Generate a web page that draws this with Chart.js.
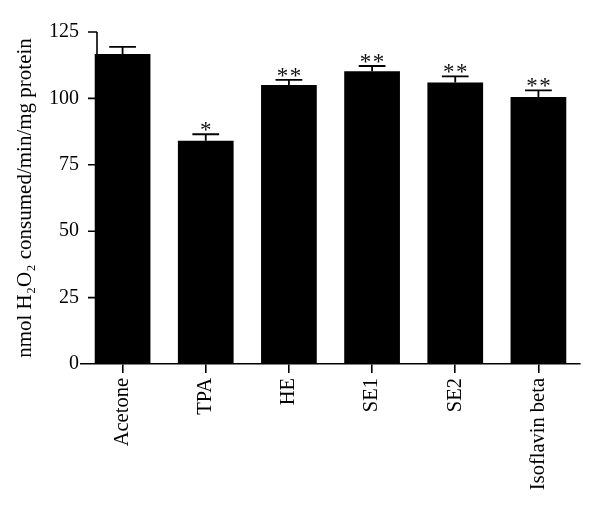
<!DOCTYPE html>
<html>
<head>
<meta charset="utf-8">
<script src="https://cdn.jsdelivr.net/npm/chart.js@4.4.1/dist/chart.umd.min.js"></script>
<style>
  html, body { margin: 0; padding: 0; background: #fff; }
  #wrap { width: 600px; height: 508px; }
</style>
</head>
<body>
<div id="wrap"><canvas id="barchart" width="600" height="508"></canvas></div>
<script>
// data
var groups = ["Acetone", "TPA", "HE", "SE1", "SE2", "Isoflavin beta"];
var means = [116.7, 84.1, 105.0, 110.2, 106.0, 100.5];
var sems = [2.7, 2.4, 2.0, 2.0, 2.3, 2.5];
var stars = [0, 1, 2, 2, 2, 2];
var yTicks = [0, 25, 50, 75, 100, 125];

var serif = "'Liberation Serif', 'Times New Roman', serif";

// y axis line + ticks sit a bit right of the category axis start, like the original
var axisPlugin = {
  id: "axisline",
  afterDatasetsDraw: function(chart) {
    var ctx = chart.ctx;
    var y = chart.scales.y;
    var x0 = chart.chartArea.left + 16;
    ctx.save();
    ctx.strokeStyle = "#000";
    ctx.lineWidth = 1.6;
    ctx.beginPath();
    ctx.moveTo(x0, y.getPixelForValue(yTicks[yTicks.length - 1]));
    ctx.lineTo(x0, y.getPixelForValue(0));
    for (var i = 1; i < yTicks.length; i++) {
      var py = y.getPixelForValue(yTicks[i]);
      ctx.moveTo(x0 - 9, py);
      ctx.lineTo(x0, py);
    }
    ctx.stroke();
    ctx.restore();
  }
};

// error bars and significance stars
var errorPlugin = {
  id: "errorbars",
  afterDatasetsDraw: function(chart) {
    var ctx = chart.ctx;
    var y = chart.scales.y;
    var bars = chart.getDatasetMeta(0).data;
    ctx.save();
    ctx.strokeStyle = "#000";
    ctx.lineWidth = 1.8;
    ctx.fillStyle = "#111";
    ctx.font = "23px " + serif;
    ctx.textAlign = "center";
    ctx.textBaseline = "alphabetic";
    for (var i = 0; i < bars.length; i++) {
      var bx = bars[i].x;
      var half = bars[i].width * 0.24;
      var top = y.getPixelForValue(means[i] + sems[i]);
      ctx.beginPath();
      ctx.moveTo(bx, bars[i].y);
      ctx.lineTo(bx, top);
      ctx.moveTo(bx - half, top);
      ctx.lineTo(bx + half, top);
      ctx.stroke();
      // one or two stars, spread a little apart
      for (var s = 0; s < stars[i]; s++) {
        var dx = (s - (stars[i] - 1) / 2) * 13;
        ctx.fillText("*", bx + dx, top + 3);
      }
    }
    ctx.restore();
  }
};

var ctxB = document.getElementById("barchart").getContext("2d");
var myBarChart = new Chart(ctxB, {
  type: "bar",
  data: {
    labels: groups,
    datasets: [{
      data: means,
      backgroundColor: "#000",
      borderWidth: 0,
      categoryPercentage: 1.0,
      barPercentage: 0.67
    }]
  },
  options: {
    responsive: false,
    animation: false,
    layout: { padding: { top: 32, right: 20, left: 0, bottom: 0 } },
    plugins: {
      legend: { display: false },
      tooltip: { enabled: false }
    },
    scales: {
      x: {
        afterFit: function(scale) { scale.height = 144; },
        border: { display: true, color: "#000", width: 1.6 },
        grid: {
          display: true,
          offset: false,
          drawOnChartArea: false,
          drawTicks: true,
          tickLength: 9,
          color: "#000",
          lineWidth: 1.6
        },
        ticks: {
          color: "#000",
          font: { family: serif, size: 20.5 },
          minRotation: 90,
          maxRotation: 90,
          padding: 5,
          autoSkip: false
        }
      },
      y: {
        min: 0,
        max: 125,
        afterFit: function(scale) { scale.width = 81; },
        border: { display: false },
        grid: { display: false, drawTicks: false, tickLength: 0 },
        ticks: {
          stepSize: 25,
          color: "#000",
          padding: 2,
          font: { family: serif, size: 20 }
        },
        title: {
          display: true,
          text: "nmol H\u2082O\u2082 consumed/min/mg protein",
          color: "#000",
          font: { family: serif, size: 21 },
          padding: { top: 13, bottom: 0 }
        }
      }
    }
  },
  plugins: [axisPlugin, errorPlugin]
});
</script>
</body>
</html>
